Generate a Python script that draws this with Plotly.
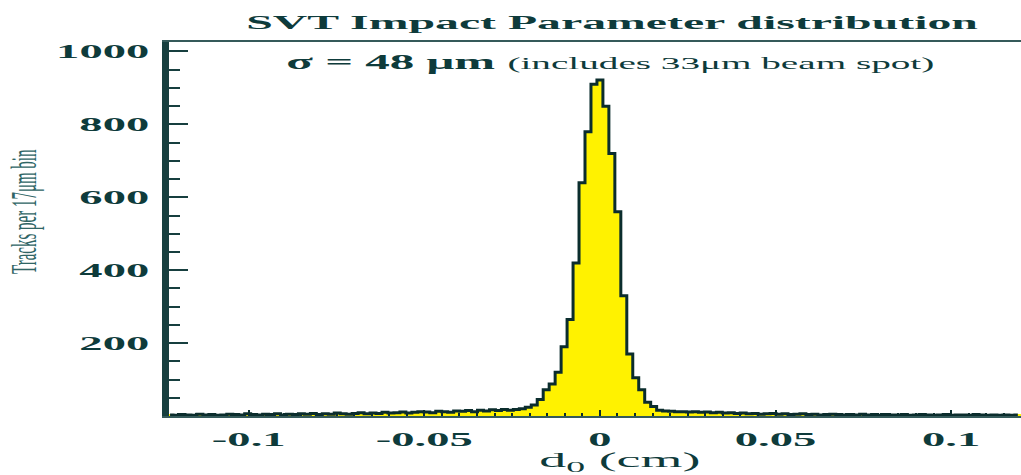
import numpy as np
import plotly.graph_objects as go

# Histogram of the SVT track impact parameter d0, 17 um (0.0017 cm) bins
bin_width = 0.0017
first_bin = -72          # index of the leftmost bin centre (centre = index * bin_width)

tail_left = [3, 2, 4, 3, 2, 5, 3, 4, 2, 3, 5, 4, 3, 6, 4, 3, 5, 4, 6, 3, 5, 4, 6,
             5, 7, 4, 6, 5, 8, 6, 5, 7, 9, 6, 8, 7, 10, 8, 9, 11, 8, 10, 12,
             11, 9, 13, 12, 10, 14, 13, 15, 12, 16, 14, 17, 15, 18, 16]
core = [18, 20, 24, 30, 45, 72, 88, 120, 190, 265, 420, 640, 780, 910,
        922,
        850, 720, 560, 330, 170, 105, 72, 38, 26, 16, 14, 13, 12, 12]
tail_right = [11, 12, 10, 11, 9, 10, 8, 9,
              7, 8, 6, 7, 5, 6, 7, 5, 6, 4, 5, 6, 4, 5, 3, 4, 5, 4,
              3, 4, 3, 5, 3, 4, 2, 4, 3, 3, 4, 2, 3, 4, 3, 2, 3, 4, 2, 3,
              3, 2, 4, 3, 2, 3, 2, 3, 2, 3]

counts = tail_left + core + tail_right
centres = (np.arange(len(counts)) + first_bin) * bin_width

y_ticks = [200, 400, 600, 800, 1000]
x_ticks = [-0.1, -0.05, 0, 0.05, 0.1]
x_labels = ["-0.1", "-0.05", "0", "0.05", "0.1"]

ink = "#0e3b3b"
serif = "Liberation Serif, Times New Roman, serif"

fig = go.Figure()
fig.add_trace(go.Bar(
    x=centres, y=counts, width=bin_width,
    marker=dict(color="#fff200", line=dict(width=0)),
    hoverinfo="skip",
))
fig.add_trace(go.Scatter(
    x=centres, y=counts, mode="lines",
    line=dict(shape="hvh", color="#0b2d2d", width=3),
    hoverinfo="skip",
))

fig.update_layout(
    width=1021, height=475,
    margin=dict(l=169, r=0, t=42, b=59),
    paper_bgcolor="white", plot_bgcolor="white",
    showlegend=False, bargap=0,
    title=dict(
        text="<b>SVT Impact Parameter distribution</b>",
        xref="container", yref="container",
        x=612 / 1021, y=1 - 22 / 475,
        xanchor="center", yanchor="middle",
        font=dict(family=serif, size=19.5, color=ink),
    ),
    xaxis=dict(
        range=[-0.1227, 0.1199],
        tickvals=x_ticks, ticktext=x_labels,
        ticks="inside", ticklen=6, tickwidth=2, tickcolor="#0b2d2d",
        minor=dict(dtick=0.005, ticks="inside", ticklen=3, tickwidth=2,
                   tickcolor="#0b2d2d"),
        showline=True, linewidth=2, linecolor="#355a5a", mirror=True,
        showgrid=False, zeroline=False,
        tickfont=dict(family=serif, size=19, color=ink, weight="bold"),
        ticklabelstandoff=5,
        automargin=False,
    ),
    yaxis=dict(
        range=[0, 1026],
        tickvals=y_ticks,
        ticks="inside", ticklen=19, tickwidth=2, tickcolor="#173f3f",
        minor=dict(dtick=50, ticks="inside", ticklen=11, tickwidth=2,
                   tickcolor="#173f3f"),
        showline=True, linewidth=7, linecolor="#173f3f",
        showgrid=False, zeroline=False,
        tickfont=dict(family=serif, size=19, color=ink, weight="bold"),
        ticklabelstandoff=9,
        automargin=False,
    ),
    annotations=[
        dict(
            text="<b>σ = 48 μm</b> <span style='font-size:16px'>(includes 33μm beam spot)</span>",
            xref="paper", yref="paper",
            x=(610 - 169) / 852, y=(416 - 62) / 374,
            xanchor="center", yanchor="middle", showarrow=False,
            font=dict(family=serif, size=20, color=ink),
        ),
        dict(
            text="d<sub>0</sub> (cm)",
            xref="paper", yref="paper",
            x=(620 - 169) / 852, y=(416 - 461) / 374,
            xanchor="center", yanchor="middle", showarrow=False,
            font=dict(family=serif, size=22, color=ink),
        ),
        dict(
            text="Tracks per 17μm bin",
            xref="paper", yref="paper",
            x=(31 - 169) / 852, y=(416 - 212) / 374,
            xanchor="center", yanchor="middle", showarrow=False,
            textangle=-90,
            font=dict(family=serif, size=15, color="#2f6565"),
        ),
    ],
)

# Widen every label horizontally (screen x-axis) about its anchor point,
# giving the broad lettering of the original figure.
widen_text = """
(function(){
  var gd = document.getElementById('{plot_id}');
  var SX = 2.45;
  gd.querySelectorAll('svg text').forEach(function(t){
    var par = t.parentNode;
    if (!par || !par.getCTM) return;
    var pm = par.getCTM();
    if (!pm) return;
    var P = new DOMMatrix([pm.a, pm.b, pm.c, pm.d, pm.e, pm.f]);
    var E = new DOMMatrix();
    var tb = t.transform.baseVal.consolidate();
    if (tb) { var m = tb.matrix; E = new DOMMatrix([m.a, m.b, m.c, m.d, m.e, m.f]); }
    var x = parseFloat(t.getAttribute('x')) || 0;
    var y = parseFloat(t.getAttribute('y')) || 0;
    var a = P.multiply(E).transformPoint(new DOMPoint(x, y));
    var S = new DOMMatrix().translate(a.x, a.y).scale(SX, 1).translate(-a.x, -a.y);
    var N = P.inverse().multiply(S).multiply(P).multiply(E);
    t.setAttribute('transform', 'matrix(' + [N.a, N.b, N.c, N.d, N.e, N.f].join(',') + ')');
  });
})();
"""

fig.write_html("out.html", config={"displayModeBar": False}, post_script=widen_text)
